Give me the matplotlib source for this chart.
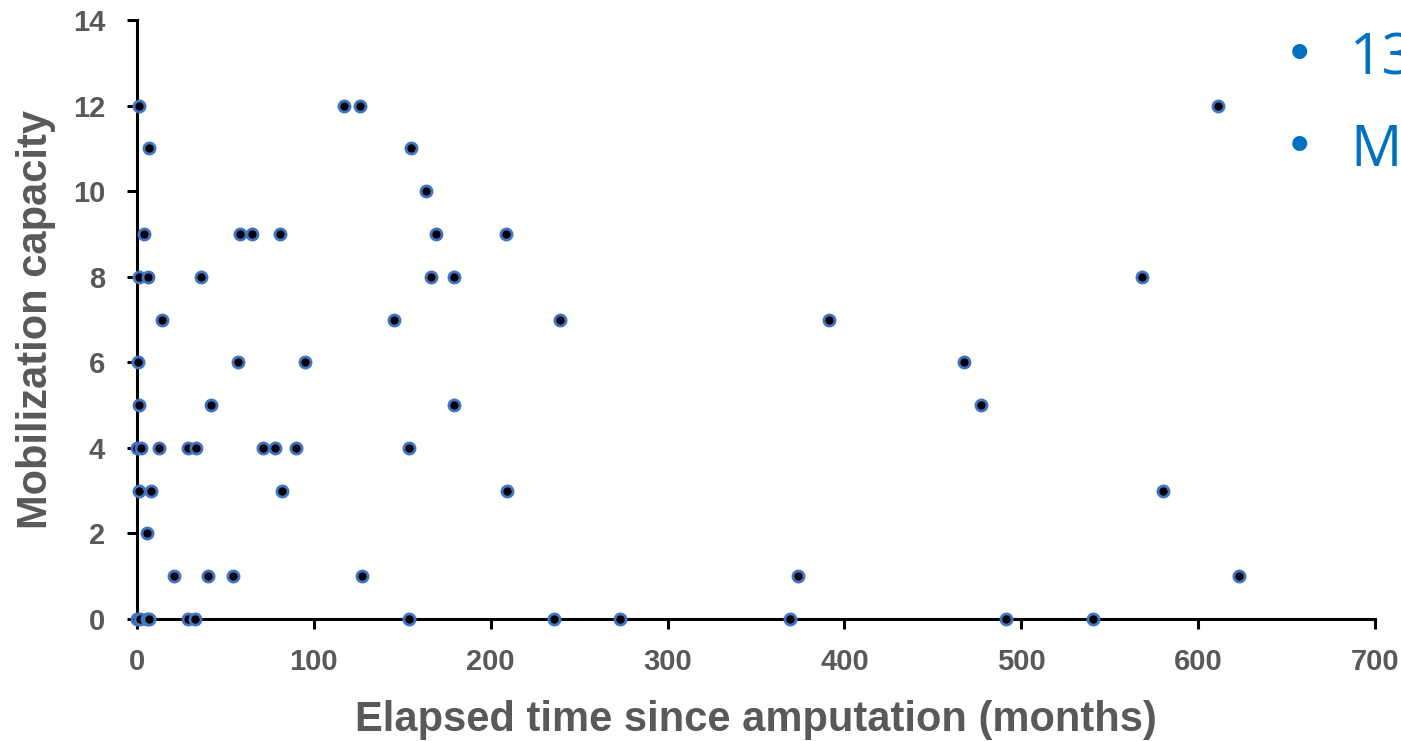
import matplotlib.pyplot as plt

# elapsed time since amputation (months) and mobilization capacity
months = [1, 7, 4, 58, 65, 81, 1, 6, 36, 14,
          0.5, 57, 95, 1, 42, 0, 2.5, 12.5, 29, 33.5,
          71, 78, 90, 154, 1, 8, 82, 209, 5.5, 21,
          40, 54, 127, 0, 1.5, 5.5, 7, 29, 33, 154,
          117, 126, 155, 163.5, 169, 208.5, 166, 179, 145.5, 239,
          179, 236, 273, 369.5, 374, 391, 467.5, 477, 491.5, 540.5,
          568.5, 580, 611, 623]
capacity = [12, 11, 9, 9, 9, 9, 8, 8, 8, 7,
            6, 6, 6, 5, 5, 4, 4, 4, 4, 4,
            4, 4, 4, 4, 3, 3, 3, 3, 2, 1,
            1, 1, 1, 0, 0, 0, 0, 0, 0, 0,
            12, 12, 11, 10, 9, 9, 8, 8, 7, 7,
            5, 0, 0, 0, 1, 7, 6, 5, 0, 0,
            8, 3, 12, 1]

x_ticks = [0, 100, 200, 300, 400, 500, 600, 700]
y_ticks = [0, 2, 4, 6, 8, 10, 12, 14]
bullet_texts = ["13", "M"]

grey = '#595959'
blue = '#0070C0'
plt.rcParams['font.family'] = ['Liberation Sans', 'DejaVu Sans']

fig = plt.figure(figsize=(14.01, 7.41), dpi=100)
ax = fig.add_axes([137 / 1401, 122 / 741, 1238 / 1401, 599 / 741])

ax.plot(months, capacity, 'o', ms=8, mfc='black', mec='#4472C4', mew=2,
        linestyle='none', clip_on=False, zorder=3)

ax.set_xlim(0, 700)
ax.set_ylim(0, 14)
ax.set_xticks(x_ticks)
ax.set_yticks(y_ticks)

for side in ['top', 'right']:
    ax.spines[side].set_visible(False)
for side in ['left', 'bottom']:
    ax.spines[side].set_linewidth(2.2)
    ax.spines[side].set_color('black')

ax.tick_params(axis='both', direction='out', length=7, width=2.2, color='black',
               labelsize=21, labelcolor=grey)
ax.tick_params(axis='x', pad=14)
ax.tick_params(axis='y', pad=16)
for lab in ax.get_xticklabels() + ax.get_yticklabels():
    lab.set_fontweight('bold')

ax.set_xlabel('Elapsed time since amputation (months)', fontsize=30,
              fontweight='bold', color=grey, labelpad=17)
ax.set_ylabel('Mobilization capacity', fontsize=30, fontweight='bold',
              color=grey, labelpad=12)

# slide bullets that spill into the picture from the right
for i, txt in enumerate(bullet_texts):
    y = 1 - (56 + 92 * i) / 741
    fig.text(1300 / 1401, y, '\u2022', fontsize=40, color=blue,
             ha='center', va='center')
    fig.text(1350 / 1401, y - 4 / 741, txt, fontsize=41, color=blue,
             ha='left', va='center', family=['Open Sans', 'DejaVu Sans'])

fig.savefig('out.png', dpi=100)
